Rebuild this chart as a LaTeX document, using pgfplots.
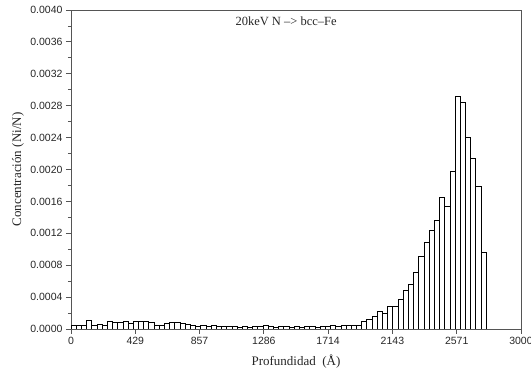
\documentclass[border=0pt]{standalone}
\usepackage{fontspec}
\setmainfont{Liberation Serif}
\newfontfamily\sansfnt{Liberation Sans}
\usepackage{pgfplots}
\pgfplotsset{compat=1.18}
\definecolor{axgray}{HTML}{555555}
\begin{document}
\begin{tikzpicture}
\begin{axis}[
  name=ax,
  scale only axis, width=450pt, height=319pt,
  xmin=0, xmax=3000, ymin=0, ymax=0.004,
  axis line style={axgray, line width=0.8pt},
  xtick={0,428.571,857.143,1285.714,1714.286,2142.857,2571.429,3000},
  xticklabels={0,429,857,1286,1714,2143,2571,3000},
  ytick={0,0.0004,0.0008,0.0012,0.0016,0.0020,0.0024,0.0028,0.0032,0.0036,0.0040},
  minor x tick num=1, minor y tick num=1,
  tick align=outside, tick pos=left,
  major tick length=5pt, minor tick length=3pt,
  every tick/.style={axgray, line width=0.8pt},
  scaled y ticks=false,
  /pgf/number format/assume math mode=true,
  yticklabel style={/pgf/number format/.cd, fixed, fixed zerofill, precision=4},
  tick label style={font=\sansfnt\fontsize{10.5}{12}\selectfont, text=black!85},
  xlabel={Profundidad\ \ (Å)},
  ylabel={Concentración (Ni/N)},
  label style={font=\fontsize{13}{15}\selectfont, text=black!85},
  xlabel style={at={(axis description cs:0.5,-0.103)}, anchor=center},
  ylabel style={at={(axis description cs:-0.118,0.5)}, anchor=center},
]
\addplot[ybar interval, draw=black, fill=white, line width=0.7pt] table {
x y
0 0.000046
34.6 0.00005
69.2 0.00005
103.8 0.000104
138.4 0.00004
173 0.00006
207.6 0.00005
242.2 0.0001
276.8 0.00008
311.4 0.00008
346 0.00009
380.6 0.00007
415.2 0.00009
449.8 0.00009
484.4 0.00009
519 0.00008
553.6 0.00005
588.2 0.00005
622.8 0.00007
657.4 0.00008
692 0.00008
726.6 0.00007
761.2 0.00006
795.8 0.00005
830.4 0.00003
865 0.00004
899.6 0.00003
934.2 0.00004
968.8 0.00003
1003.4 0.00003
1038 0.00003
1072.6 0.00003
1107.2 0.00002
1141.8 0.00003
1176.4 0.00002
1211 0.00003
1245.6 0.00003
1280.2 0.00005
1314.8 0.00003
1349.4 0.00002
1384 0.00003
1418.6 0.00003
1453.2 0.00002
1487.8 0.00003
1522.4 0.00002
1557 0.00003
1591.6 0.00003
1626.2 0.00002
1660.8 0.00003
1695.4 0.00003
1730 0.000046
1764.6 0.00003
1799.2 0.00004
1833.8 0.00004
1868.4 0.00004
1903 0.00005
1937.6 0.0001
1972.2 0.000125
2006.8 0.00016
2041.4 0.000226
2076 0.0002
2110.6 0.00029
2145.2 0.00028
2179.8 0.000376
2214.4 0.000489
2249 0.000564
2283.6 0.000706
2318.2 0.000915
2352.8 0.001087
2387.4 0.001233
2422 0.001367
2456.6 0.001647
2491.2 0.001534
2525.8 0.001977
2560.4 0.002922
2595 0.002838
2629.6 0.002404
2664.2 0.002136
2698.8 0.001785
2733.4 0.000961
2768 0.000961
};
\node[font=\fontsize{12.5}{14}\selectfont, anchor=base, text=black!85] at (rel axis cs:0.478,0.95) {20keV N –> bcc–Fe};
\end{axis}
\pgfresetboundingbox
\path ([shift={(-71pt,-45pt)}]ax.south west) rectangle ([shift={(10pt,10pt)}]ax.north east);
\end{tikzpicture}
\end{document}
